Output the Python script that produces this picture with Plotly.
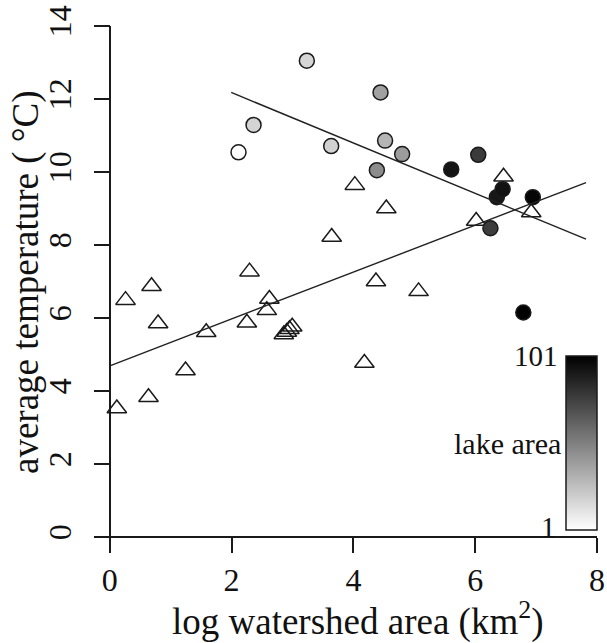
import plotly.graph_objects as go

# ---- data ----
# streams without lakes (open triangles)
tri_logarea = [0.115, 0.258, 0.685, 0.793, 0.635, 1.243, 1.583, 2.25, 2.294, 2.62, 2.578,
               2.857, 2.906, 2.95, 2.995, 3.643, 4.023, 4.18, 4.37, 4.54, 5.07, 6.016, 6.465, 6.92]
tri_temp = [3.52, 6.49, 6.87, 5.85, 3.83, 4.56, 5.61, 5.87, 7.27, 6.52, 6.21,
            5.55, 5.62, 5.69, 5.76, 8.22, 9.64, 4.77, 7.0, 9.0, 6.73, 8.66, 9.87, 8.89]

# streams with lakes (filled circles, shaded by lake area)
circ_logarea = [2.113, 2.36, 3.235, 3.635, 4.52, 4.445, 4.80, 4.385, 6.05, 6.25,
                5.606, 6.355, 6.45, 6.946, 6.79]
circ_temp = [10.54, 11.29, 13.05, 10.71, 10.86, 12.18, 10.49, 10.05, 10.47, 8.46,
             10.07, 9.31, 9.53, 9.31, 6.15]
circ_lakearea = [1, 18, 17, 19, 30, 38, 40, 46, 78, 77, 93, 92, 94, 99, 101]

# fitted lines (intercept, slope, x-start, x-end)
fit_no_lake = dict(a=4.69, b=0.642, x0=0.0, x1=7.82)
fit_lake = dict(a=13.555, b=-0.69, x0=1.993, x1=7.82)

lake_range = [1, 101]
xticks = [0, 2, 4, 6, 8]
yticks = [0, 2, 4, 6, 8, 10, 12, 14]

x_title = "log watershed area (km<sup>2</sup>)"
y_title = "average temperature ( °C)"
cbar_title = "lake area"

FONT = "Liberation Serif"
INK = "#1a1a1a"
TXT = "#111111"

fig = go.Figure()

fig.add_trace(go.Scatter(
    x=tri_logarea, y=tri_temp, mode="markers",
    marker=dict(symbol="triangle-up-open", size=17, color=INK, line=dict(width=1.5, color=INK)),
    showlegend=False, hoverinfo="x+y"))

fig.add_trace(go.Scatter(
    x=circ_logarea, y=circ_temp, mode="markers",
    marker=dict(symbol="circle", size=15, color=circ_lakearea, coloraxis="coloraxis",
                line=dict(width=1.5, color=INK)),
    showlegend=False))

for f in (fit_no_lake, fit_lake):
    xs = [f["x0"], f["x1"]]
    ys = [f["a"] + f["b"] * v for v in xs]
    fig.add_trace(go.Scatter(x=xs, y=ys, mode="lines",
                             line=dict(color="#222222", width=1.4),
                             showlegend=False, hoverinfo="skip"))

W, H = 607, 643
ml, mr, mt, mb = 94, 10, 26, 91
pw, ph = W - ml - mr, H - mt - mb

def px_x(p):  # pixel -> paper fraction (x)
    return (p - ml) / pw

def px_y(p):  # pixel -> paper fraction (y)
    return (H - mb - p) / ph

fig.update_layout(
    width=W, height=H,
    margin=dict(l=ml, r=mr, t=mt, b=mb, pad=0, autoexpand=False),
    paper_bgcolor="white", plot_bgcolor="white",
    font=dict(family=FONT, color=TXT, size=30),
    coloraxis=dict(
        cmin=lake_range[0], cmax=lake_range[1],
        colorscale=[[0, "#ffffff"], [1, "#000000"]],
        colorbar=dict(
            x=px_x(566), xanchor="left", y=px_y(529.5), yanchor="bottom",
            len=174, lenmode="pixels", thickness=31,
            outlinewidth=1.5, outlinecolor=INK,
            showticklabels=False, ticks="", xpad=0, ypad=0,
        ),
    ),
    xaxis=dict(
        range=[-0.26, 8.0], anchor="free", position=px_y(537), automargin=False,
        showline=True, linecolor=INK, linewidth=1.6,
        ticks="outside", ticklen=15, tickwidth=1.6, tickcolor=INK,
        tickvals=xticks, ticktext=[str(v) for v in xticks],
        tickfont=dict(size=32, family=FONT, color=TXT),
        showgrid=False, zeroline=False,
    ),
    yaxis=dict(
        range=[-0.41, 14.0], anchor="free", position=px_x(110.3), automargin=False,
        showline=True, linecolor=INK, linewidth=1.6,
        ticks="outside", ticklen=16, tickwidth=1.6, tickcolor=INK,
        tickvals=yticks, ticktext=[str(v) for v in yticks], tickangle=-90,
        ticklabelstandoff=10,
        tickfont=dict(size=32, family=FONT, color=TXT),
        showgrid=False, zeroline=False,
    ),
    annotations=[
        dict(text=x_title, xref="paper", yref="paper", x=px_x(358), y=px_y(619),
             xanchor="center", yanchor="middle", showarrow=False,
             font=dict(size=37, family=FONT, color=TXT)),
        dict(text=y_title, xref="paper", yref="paper", x=px_x(26), y=px_y(282),
             xanchor="center", yanchor="middle", showarrow=False, textangle=-90,
             font=dict(size=37, family=FONT, color=TXT)),
        dict(text="101", xref="paper", yref="paper", x=px_x(560), y=px_y(356),
             xanchor="right", yanchor="middle", showarrow=False,
             font=dict(size=29, family=FONT, color=TXT)),
        dict(text="1", xref="paper", yref="paper", x=px_x(558), y=px_y(527),
             xanchor="right", yanchor="middle", showarrow=False,
             font=dict(size=29, family=FONT, color=TXT)),
        dict(text=cbar_title, xref="paper", yref="paper", x=px_x(563), y=px_y(443),
             xanchor="right", yanchor="middle", showarrow=False,
             font=dict(size=30, family=FONT, color=TXT)),
    ],
)

fig.write_html("out.html")
